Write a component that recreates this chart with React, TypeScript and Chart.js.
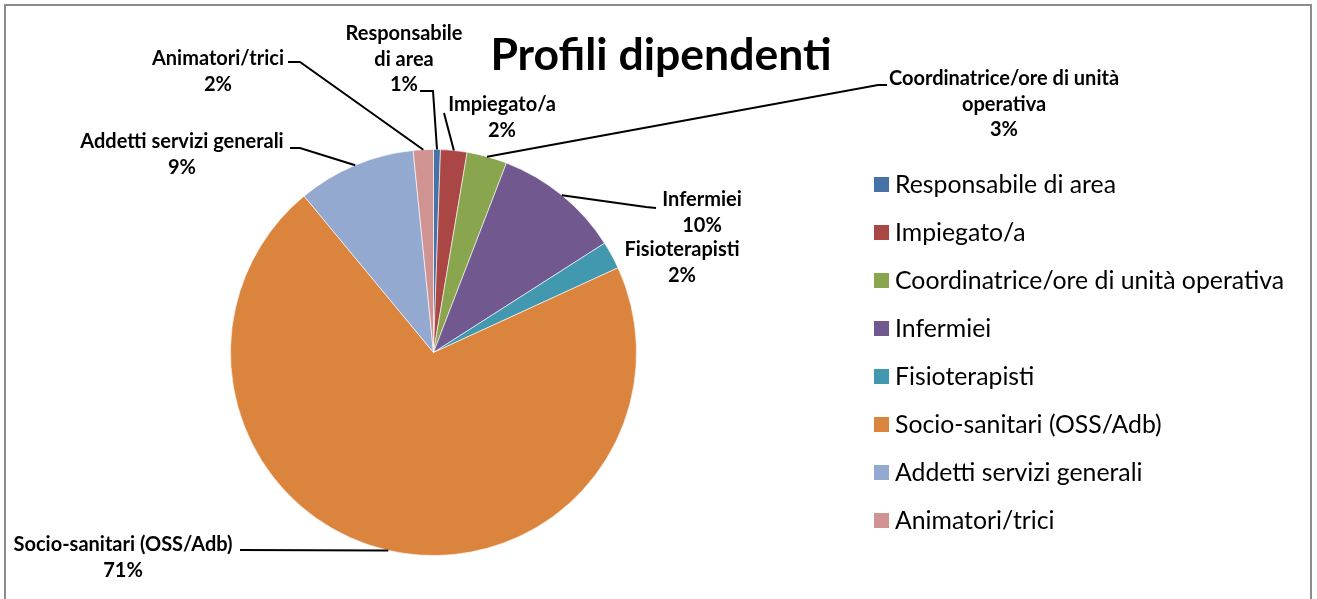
import React, { useEffect, useRef } from "react";
import { Chart, registerables } from "chart.js";

Chart.register(...registerables);

const categories = [
  "Responsabile di area",
  "Impiegato/a",
  "Coordinatrice/ore di unità operativa",
  "Infermiei",
  "Fisioterapisti",
  "Socio-sanitari (OSS/Adb)",
  "Addetti servizi generali",
  "Animatori/trici",
];
const values = [0.55, 2.1, 3.2, 10.1, 2.2, 70.85, 9.4, 1.6];
const colors = ["#4572A7", "#AA4643", "#89A54E", "#71588F", "#4198AF", "#DB843D", "#93A9CF", "#D19392"];
const dataLabelLines = [
  ["Responsabile", "di area"],
  ["Impiegato/a"],
  ["Coordinatrice/ore di unità", "operativa"],
  ["Infermiei"],
  ["Fisioterapisti"],
  ["Socio-sanitari (OSS/Adb)"],
  ["Addetti servizi generali"],
  ["Animatori/trici"],
];
const titleText = "Profili dipendenti";

// layout of the data labels (label centre x, first line y, leader points from text toward slice)
const labelLayout = [
  { x: 404, y: 34, leader: [[420, 91], [433, 91]] },
  { x: 502, y: 105, leader: [[444, 113]] },
  { x: 1004, y: 79, leader: [[887, 85], [878, 85]] },
  { x: 702, y: 200, leader: [[656, 208], [646, 207]] },
  { x: 682, y: 250, leader: null },
  { x: 123, y: 545, leader: [[240, 550]] },
  { x: 182, y: 142, leader: [[290, 148], [300, 148]] },
  { x: 218, y: 59, leader: [[288, 62], [300, 62]] },
];

const FONT = "Lato, 'DejaVu Sans', sans-serif";

const overlayPlugin = {
  id: "overlay",
  beforeDraw(chart: any) {
    const ctx = chart.ctx;
    ctx.save();
    ctx.fillStyle = "#ffffff";
    ctx.fillRect(0, 0, chart.width, chart.height);
    ctx.restore();
  },
  afterDraw(chart: any) {
    const ctx = chart.ctx;
    ctx.save();
    // frame
    ctx.strokeStyle = "#8c8c8c";
    ctx.lineWidth = 2;
    ctx.strokeRect(5, 5, 1306, 620);

    // title
    ctx.fillStyle = "#000";
    ctx.font = `bold 44.5px ${FONT}`;
    ctx.textAlign = "center";
    ctx.textBaseline = "middle";
    ctx.fillText(titleText, 661, 56);

    // legend
    ctx.font = `24.8px ${FONT}`;
    ctx.textAlign = "left";
    categories.forEach((c, i) => {
      const cy = 184.5 + i * 48;
      ctx.fillStyle = colors[i];
      ctx.fillRect(874, cy - 7.5, 15, 15);
      ctx.fillStyle = "#000";
      ctx.fillText(c, 895, cy + 1);
    });

    // data labels with leader lines
    const meta = chart.getDatasetMeta(0);
    const total = values.reduce((a, b) => a + b, 0);
    ctx.font = `bold 20px ${FONT}`;
    ctx.textAlign = "center";
    labelLayout.forEach((lab, i) => {
      const arc = meta.data[i];
      const p = arc.getProps(["x", "y", "startAngle", "endAngle", "outerRadius"], true);
      const mid = (p.startAngle + p.endAngle) / 2;
      const ax = p.x + Math.cos(mid) * p.outerRadius;
      const ay = p.y + Math.sin(mid) * p.outerRadius;
      if (lab.leader) {
        ctx.strokeStyle = "#000";
        ctx.lineWidth = 2;
        ctx.beginPath();
        ctx.moveTo(lab.leader[0][0], lab.leader[0][1]);
        for (let k = 1; k < lab.leader.length; k++) ctx.lineTo(lab.leader[k][0], lab.leader[k][1]);
        ctx.lineTo(ax, ay);
        ctx.stroke();
      }
      const lines = [...dataLabelLines[i], `${Math.round((values[i] / total) * 100)}%`];
      ctx.fillStyle = "#000";
      lines.forEach((t, k) => ctx.fillText(t, lab.x, lab.y + k * 25.5));
    });
    ctx.restore();
  },
};

export default function App() {
  const ref = useRef<HTMLCanvasElement | null>(null);
  useEffect(() => {
    if (!ref.current) return;
    const chart = new Chart(ref.current, {
      type: "pie",
      data: {
        labels: categories,
        datasets: [
          {
            data: values,
            backgroundColor: colors,
            borderColor: "rgba(255,255,255,0.6)",
            borderWidth: 1,
          },
        ],
      },
      options: {
        animation: false,
        responsive: false,
        maintainAspectRatio: false,
        layout: { padding: { left: 230, top: 149, right: 680, bottom: 43 } },
        plugins: {
          legend: { display: false },
          title: { display: false },
          tooltip: { enabled: false },
        },
      },
      plugins: [overlayPlugin],
    });
    return () => chart.destroy();
  }, []);
  return (
    <div style={{ position: "absolute", left: 0, top: 0, width: 1317, height: 599 }}>
      <canvas ref={ref} width={1317} height={599} style={{ width: 1317, height: 599, display: "block" }} />
    </div>
  );
}
